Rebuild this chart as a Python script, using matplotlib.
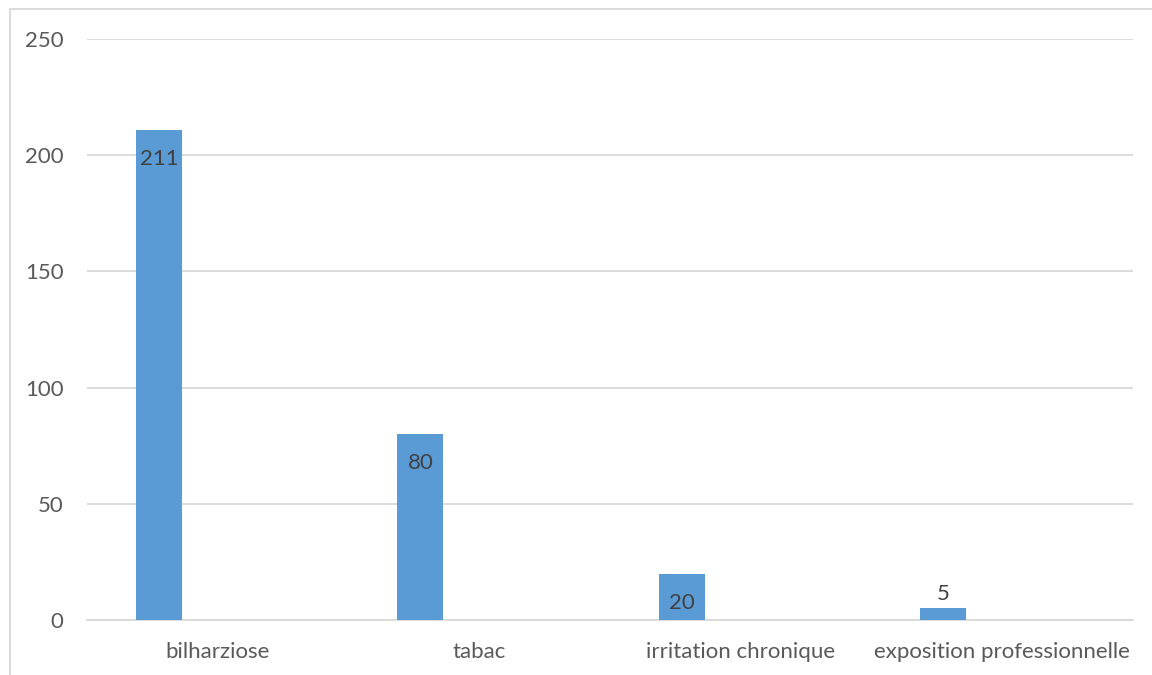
import matplotlib.pyplot as plt
from matplotlib.patches import Rectangle

categories = ['bilharziose', 'tabac', 'irritation chronique', 'exposition professionnelle']
values = [211, 80, 20, 5]
yticks = [0, 50, 100, 150, 200, 250]

plt.rcParams['font.family'] = ['Lato', 'DejaVu Sans']

fig = plt.figure(figsize=(11.52, 6.75), dpi=100)
ax = fig.add_axes([87 / 1152, 1 - 620 / 675, (1133 - 87) / 1152, (620 - 39) / 675])

# bordure de la zone du graphique
fig.patches.append(Rectangle((10 / 1152, -0.1), 1.2, 1 - 9 / 675 + 0.1, transform=fig.transFigure,
                             fill=False, edgecolor='#d9d9d9', linewidth=1.3))

x = list(range(len(categories)))
xpos = [i - 0.225 for i in x]
ax.bar(xpos, values, width=0.176, color='#5b9bd5', zorder=3)

for xp, v in zip(xpos, values):
    if v > 15:
        ax.annotate(str(v), (xp, v), xytext=(0, -21), textcoords='offset points',
                    ha='center', va='center', fontsize=16, color='#404040', zorder=4)
    else:
        ax.annotate(str(v), (xp, v), xytext=(0, 10), textcoords='offset points',
                    ha='center', va='center', fontsize=16, color='#404040', zorder=4)

ax.set_xlim(-0.5, 3.5)
ax.set_ylim(0, 250)
ax.set_yticks(yticks)
ax.set_xticks(x)
ax.set_xticklabels(categories)
ax.grid(axis='y', color='#d9d9d9', linewidth=1.3, zorder=0)
for s in ['top', 'right', 'left']:
    ax.spines[s].set_visible(False)
ax.spines['bottom'].set_color('#d9d9d9')
ax.spines['bottom'].set_linewidth(1.3)
ax.tick_params(axis='both', length=0, labelsize=16, colors='#595959')
ax.tick_params(axis='y', pad=17)
ax.tick_params(axis='x', pad=15.5)

fig.savefig('out.png', dpi=100)
